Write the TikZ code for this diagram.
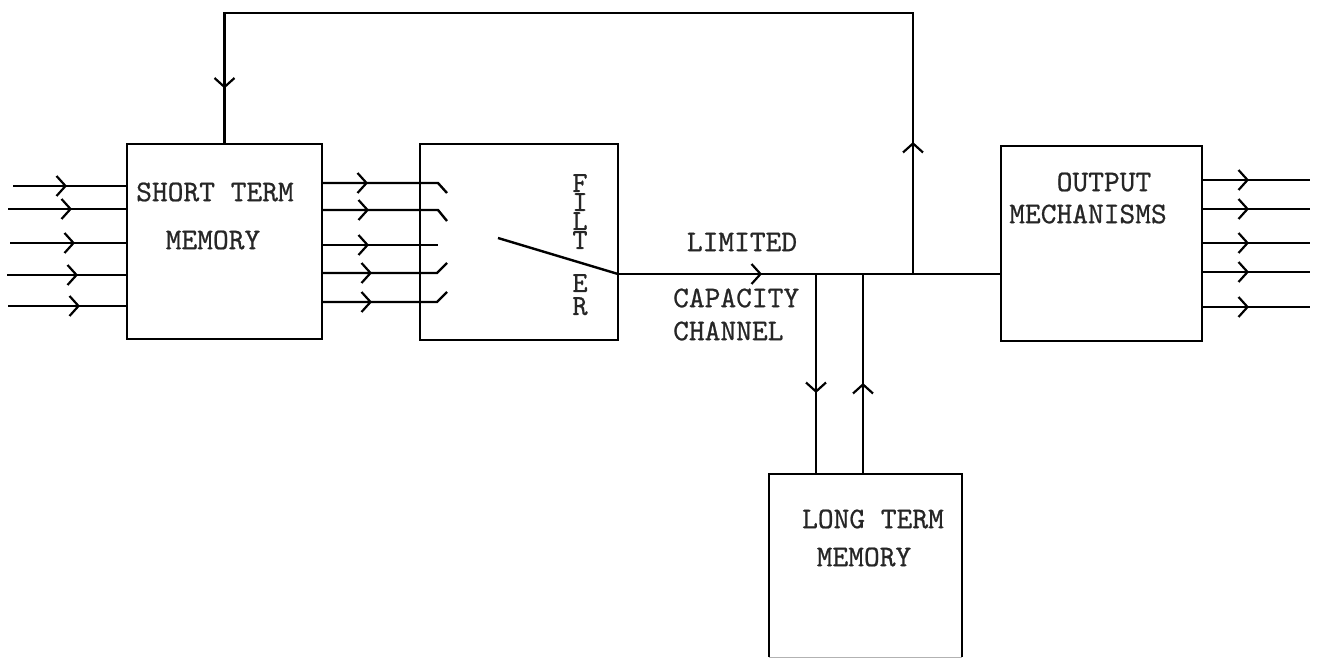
\documentclass[tikz,border=0pt]{standalone}
\usepackage{fontspec}
\setmonofont{lmmono10-regular.otf}[FakeBold=0.7]
\usetikzlibrary{arrows.meta,decorations.markings}
\newcommand\barbtip{\arrow{Straight Barb[length=9pt,width=20pt,line width=2.2pt]}}
\begin{document}
\begin{tikzpicture}[x=1pt,y=-1pt,line width=2.4pt,
  box/.style={rectangle,anchor=north west,inner sep=0pt,outer sep=0pt},
  lbl/.style={font=\fontsize{30}{34}\selectfont\ttfamily,inner sep=0pt,text=black!85},
  letters/.style={font=\fontsize{29}{#1}\selectfont\ttfamily,inner sep=0pt,text=black!85,align=center},
  marks/.style={postaction={decorate},decoration={markings,#1}},
  tip/.style={marks={mark=at position #1 with {\barbtip}}}]
\useasboundingbox (0,0) rectangle (1319,660);
\clip (0,0) rectangle (1319,660);

% boxes
\node[box,draw,minimum width=195pt,minimum height=195pt] (stm) at (127,144) {};
\node[box,draw,minimum width=198pt,minimum height=196pt] (filter) at (420,144) {};
\node[box,draw,minimum width=201pt,minimum height=195pt] (out) at (1001,146) {};
\node[box,minimum width=193pt,minimum height=183pt] (ltm) at (769,474) {};
\draw (ltm.south west) -- (ltm.north west) -- (ltm.north east) -- (ltm.south east);
\draw[black!30,line width=1pt] (ltm.south west) -- (ltm.south east);

% labels
\node[lbl] (t1) at (215,192) {SHORT TERM};
\node[lbl] (t2) at (213,240) {MEMORY};
\node[lbl] (t3) at (1104,182) {OUTPUT};
\node[lbl] (t4) at (1088,214) {MECHANISMS};
\node[lbl] (t5) at (873,519) {LONG TERM};
\node[lbl] (t6) at (864,557) {MEMORY};
\node[lbl] (t7) at (742,242) {LIMITED};
\node[lbl,anchor=west] (t8) at (672,298) {CAPACITY};
\node[lbl,anchor=west] (t9) at (672,331) {CHANNEL};
\node[letters=19,anchor=north] (f1) at (580,173) {F\\I\\L\\T};
\node[letters=23,anchor=north] (f2) at (580,273) {E\\R};

% inputs to short term memory
\foreach \xx/\yy/\p [count=\i] in {13/186/54,8/209/64,10/243/65,7/275/71,8/306/72}{
  \coordinate (in\i) at (\xx,\yy);
  \draw[tip=\p pt] (in\i) -- (in\i -| stm.west);
}

% short term memory to filter contacts
\coordinate (c1) at (447,193);
\coordinate (c2) at (447,221);
\coordinate (c3) at (438,245);
\coordinate (c4) at (447,263);
\coordinate (c5) at (447,292);
\draw[tip=46pt] (stm.east |- 0,183) -- (438,183) -- (c1);
\draw[tip=47pt] (stm.east |- 0,210) -- (438,210) -- (c2);
\draw[tip=47pt] (stm.east |- 0,245) -- (c3);
\draw[tip=50pt] (stm.east |- 0,273) -- (437,273) -- (c4);
\draw[tip=50pt] (stm.east |- 0,302) -- (437,302) -- (c5);

% switch lever and channel
\coordinate (sw) at (filter.east |- 0,274);
\coordinate (lev) at (498,238);
\draw (lev) -- (sw);
\draw[tip=144pt] (sw) -- (sw -| out.west);

% feedback loop
\coordinate (j1) at (913,274);
\draw[marks={mark=at position 132pt with {\barbtip},mark=at position 1025pt with {\barbtip}}]
  (j1) -- (913,13) -- (stm.north |- 0,13) -- (stm.north);

% long term memory connections
\coordinate (j2) at (816,274);
\coordinate (j3) at (863,274);
\draw[tip=119pt] (j2) -- (j2 |- ltm.north);
\draw[tip=91pt] (j3 |- ltm.north) -- (j3);

% outputs
\foreach \yy in {180,209,243,272,307}{
  \draw[tip=47pt] (out.east |- 0,\yy) -- (1310,\yy);
}
\end{tikzpicture}
\end{document}
